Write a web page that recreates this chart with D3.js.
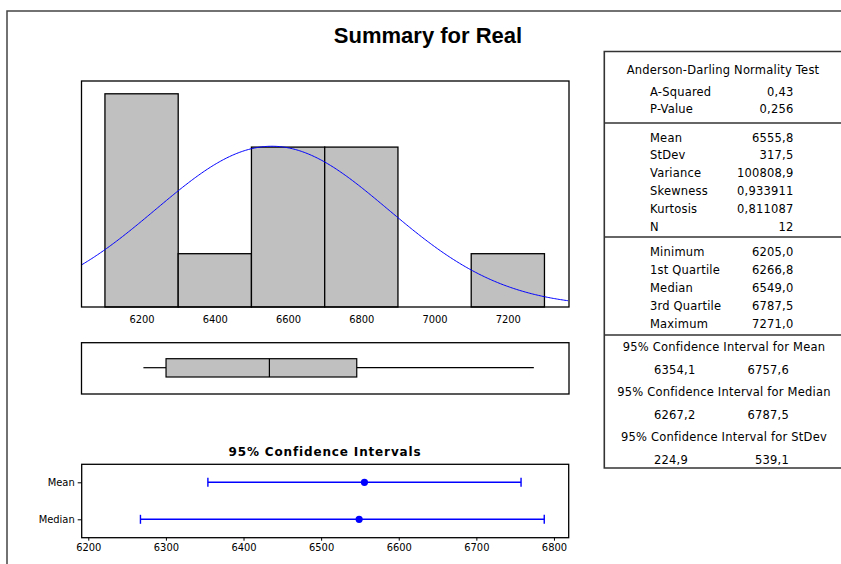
<!DOCTYPE html>
<html>
<head>
<meta charset="utf-8">
<script src="https://cdn.jsdelivr.net/npm/d3@7/dist/d3.min.js"></script>
<style>
  html, body { margin: 0; padding: 0; background: #fff; }
  svg { display: block; }
  .ax text { font-family: "DejaVu Sans Condensed", "Liberation Sans", sans-serif; font-size: 11px; fill: #000; }
  .tbl { font-family: "DejaVu Sans", Verdana, sans-serif; font-size: 11.5px; letter-spacing: 0.2px; fill: #000; }
</style>
</head>
<body>
<script>
// ---------- data ----------
const binStarts = [6100, 6300, 6500, 6700, 6900, 7100];
const binCounts = [4, 1, 3, 3, 0, 1];
const binWidth = 200;
const histTicks = [6200, 6400, 6600, 6800, 7000, 7200];

const sampleMean = 6555.8;
const sampleStDev = 317.5;
const sampleN = 12;

const boxStats = { min: 6205.0, q1: 6266.8, median: 6549.0, q3: 6787.5, max: 7271.0 };

const ciLabels = ["Mean", "Median"];
const ciCenters = [6555.8, 6549.0];
const ciLower = [6354.1, 6267.2];
const ciUpper = [6757.6, 6787.5];
const ciTicks = [6200, 6300, 6400, 6500, 6600, 6700, 6800];

const adLabels = ["A-Squared", "P-Value"];
const adValues = ["0,43", "0,256"];
const momLabels = ["Mean", "StDev", "Variance", "Skewness", "Kurtosis", "N"];
const momValues = ["6555,8", "317,5", "100808,9", "0,933911", "0,811087", "12"];
const quLabels = ["Minimum", "1st Quartile", "Median", "3rd Quartile", "Maximum"];
const quValues = ["6205,0", "6266,8", "6549,0", "6787,5", "7271,0"];
const ciHeads = ["95% Confidence Interval for Mean", "95% Confidence Interval for Median", "95% Confidence Interval for StDev"];
const ciLowTxt = ["6354,1", "6267,2", "224,9"];
const ciHighTxt = ["6757,6", "6787,5", "539,1"];

// ---------- svg ----------
const W = 841, H = 564;
const svg = d3.select("body").append("svg").attr("width", W).attr("height", H);

// outer frame
svg.append("path").attr("d", `M7,${H} L7,11 L${W},11`).attr("fill", "none")
  .attr("stroke", "#444").attr("stroke-width", 1.5);

// title
svg.append("text").attr("x", 428).attr("y", 43).attr("text-anchor", "middle")
  .style("font-family", "'Liberation Sans', Arial, sans-serif").style("font-weight", "bold")
  .style("font-size", "22px").text("Summary for Real");

// ---------- histogram ----------
const hx = d3.scaleLinear().domain([6036, 7367]).range([81.5, 569]);
const hy = d3.scaleLinear().domain([0, 4.24]).range([307, 81]);

svg.append("g").selectAll("rect").data(binStarts.map((s, i) => ({ s, c: binCounts[i] })).filter(d => d.c > 0))
  .join("rect")
  .attr("x", d => hx(d.s)).attr("width", d => hx(d.s + binWidth) - hx(d.s))
  .attr("y", d => hy(d.c)).attr("height", d => hy(0) - hy(d.c))
  .attr("fill", "#c0c0c0").attr("stroke", "#000").attr("stroke-width", 1.3);

const curveX = d3.range(hx.domain()[0], hx.domain()[1] + 1, 4);
const dens = x => sampleN * binWidth / (sampleStDev * Math.sqrt(2 * Math.PI)) *
  Math.exp(-0.5 * Math.pow((x - sampleMean) / sampleStDev, 2));
svg.append("path").datum(curveX)
  .attr("d", d3.line().x(d => hx(d)).y(d => hy(dens(d))))
  .attr("fill", "none").attr("stroke", "#0000ff").attr("stroke-width", 1);

svg.append("rect").attr("x", 81.5).attr("y", 81).attr("width", 569 - 81.5).attr("height", 307 - 81)
  .attr("fill", "none").attr("stroke", "#000").attr("stroke-width", 1.3);

svg.append("g").attr("class", "ax").attr("transform", "translate(0,307)")
  .call(d3.axisBottom(hx).tickValues(histTicks).tickSize(0).tickPadding(8).tickFormat(d3.format("d")))
  .call(g => g.select(".domain").remove());

// ---------- boxplot ----------
const by0 = 342.7, by1 = 394, bMid = 367.7, bTop = 358.7, bBot = 377;
svg.append("rect").attr("x", 81.5).attr("y", by0).attr("width", 569 - 81.5).attr("height", by1 - by0)
  .attr("fill", "none").attr("stroke", "#000").attr("stroke-width", 1.3);
const bg = svg.append("g").attr("stroke", "#000").attr("stroke-width", 1.2);
bg.append("line").attr("x1", hx(boxStats.min)).attr("x2", hx(boxStats.q1)).attr("y1", bMid).attr("y2", bMid);
bg.append("line").attr("x1", hx(boxStats.q3)).attr("x2", hx(boxStats.max)).attr("y1", bMid).attr("y2", bMid);
bg.append("rect").attr("x", hx(boxStats.q1)).attr("width", hx(boxStats.q3) - hx(boxStats.q1))
  .attr("y", bTop).attr("height", bBot - bTop).attr("fill", "#c0c0c0");
bg.append("line").attr("x1", hx(boxStats.median)).attr("x2", hx(boxStats.median)).attr("y1", bTop).attr("y2", bBot);

// ---------- CI plot ----------
const cx = d3.scaleLinear().domain([6191.5, 6819]).range([81.7, 568.7]);
const cy = d3.scalePoint().domain(ciLabels).range([482.3, 519.3]);
const cTop = 464.3, cBot = 537.7;

svg.append("text").attr("x", 325).attr("y", 456).attr("text-anchor", "middle")
  .style("font-family", "'DejaVu Sans', Verdana, sans-serif").style("font-weight", "bold")
  .style("font-size", "12px").style("letter-spacing", "0.85px").text("95% Confidence Intervals");

svg.append("rect").attr("x", 81.7).attr("y", cTop).attr("width", 568.7 - 81.7).attr("height", cBot - cTop)
  .attr("fill", "none").attr("stroke", "#000").attr("stroke-width", 1.3);

svg.append("g").attr("class", "ax").attr("transform", `translate(0,${cBot})`)
  .call(d3.axisBottom(cx).tickValues(ciTicks).tickSize(3).tickPadding(3).tickFormat(d3.format("d")))
  .call(g => g.select(".domain").remove());
svg.append("g").attr("class", "ax").attr("transform", "translate(81.7,0)")
  .call(d3.axisLeft(cy).tickSize(4).tickPadding(3))
  .call(g => g.select(".domain").remove());

const ciData = ciLabels.map((l, i) => ({ l, c: ciCenters[i], lo: ciLower[i], hi: ciUpper[i] }));
const cg = svg.append("g").attr("stroke", "#0000ff").attr("stroke-width", 1.4);
ciData.forEach(d => {
  const y = cy(d.l);
  cg.append("line").attr("x1", cx(d.lo)).attr("x2", cx(d.hi)).attr("y1", y).attr("y2", y);
  cg.append("line").attr("x1", cx(d.lo)).attr("x2", cx(d.lo)).attr("y1", y - 4.5).attr("y2", y + 4.5);
  cg.append("line").attr("x1", cx(d.hi)).attr("x2", cx(d.hi)).attr("y1", y - 4.5).attr("y2", y + 4.5);
  cg.append("circle").attr("cx", cx(d.c)).attr("cy", y).attr("r", 3.6).attr("fill", "#0000ff").attr("stroke", "none");
});

// ---------- table ----------
const tL = 604.3, tT = 51.5, tB = 468;
const tg = svg.append("g");
tg.append("path").attr("d", `M${W + 2},${tT} L${tL},${tT} L${tL},${tB} L${W + 2},${tB}`)
  .attr("fill", "none").attr("stroke", "#333").attr("stroke-width", 1.6);
[123, 237, 335].forEach(y => tg.append("line").attr("x1", tL).attr("x2", W).attr("y1", y).attr("y2", y)
  .attr("stroke", "#333").attr("stroke-width", 1.6));

const tc = 723, labX = 650, valX = 793.5;
tg.append("text").attr("class", "tbl").attr("x", tc).attr("y", 73.5).attr("text-anchor", "middle")
  .text("Anderson-Darling Normality Test");

function rows(labels, values, y0, step) {
  labels.forEach((l, i) => {
    const y = y0 + i * step + 4;
    tg.append("text").attr("class", "tbl").attr("x", labX).attr("y", y).text(l);
    tg.append("text").attr("class", "tbl").attr("x", valX).attr("y", y).attr("text-anchor", "end").text(values[i]);
  });
}
rows(adLabels, adValues, 91.5, 17.5);
rows(momLabels, momValues, 137.5, 17.9);
rows(quLabels, quValues, 252, 18);

ciHeads.forEach((h, i) => {
  const y = 346.5 + i * 45;
  tg.append("text").attr("class", "tbl").attr("x", tc + 1).attr("y", y + 4).attr("text-anchor", "middle").text(h);
  tg.append("text").attr("class", "tbl").attr("x", 654).attr("y", y + 23.5 + 4).text(ciLowTxt[i]);
  tg.append("text").attr("class", "tbl").attr("x", 789).attr("y", y + 23.5 + 4).attr("text-anchor", "end").text(ciHighTxt[i]);
});
</script>
</body>
</html>
